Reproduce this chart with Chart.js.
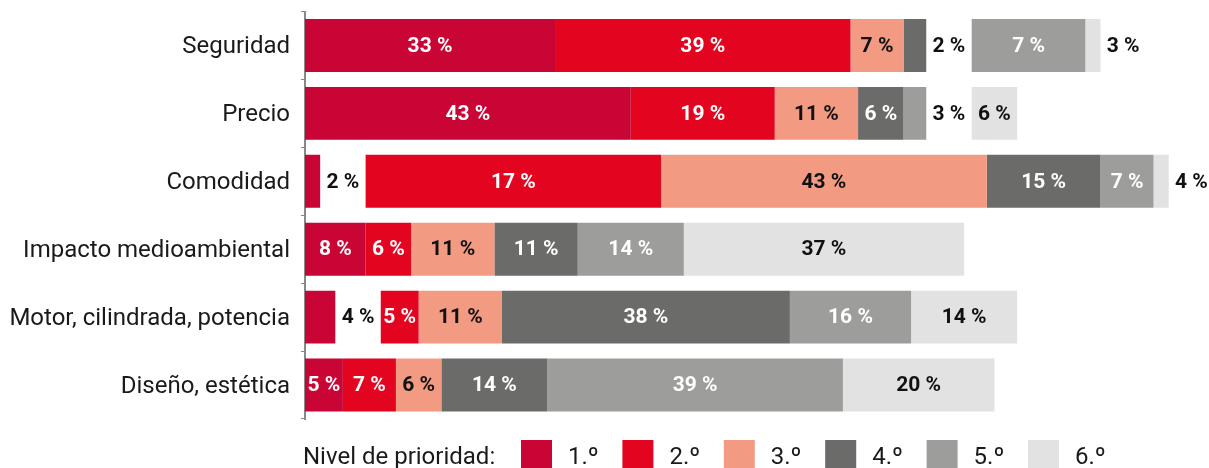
<!DOCTYPE html>
<html>
<head>
<meta charset="utf-8">
<script src="https://cdn.jsdelivr.net/npm/chart.js@4"></script>
<style>
  html, body { margin: 0; padding: 0; background: #fff; }
  #wrap { width: 1209px; height: 468px; position: relative; }
</style>
</head>
<body>
<div id="wrap"><canvas id="graficoPrioridad"></canvas></div>
<script>
const categorias = ['Seguridad', 'Precio', 'Comodidad', 'Impacto medioambiental', 'Motor, cilindrada, potencia', 'Diseño, estética'];
const niveles = ['1.º', '2.º', '3.º', '4.º', '5.º', '6.º'];
const colores = ['#C90535', '#E30520', '#F29A82', '#6B6B6A', '#9D9D9C', '#E2E2E2'];
const colorTexto = ['#fff', '#fff', '#111', '#fff', '#fff', '#111'];

// anchos de barra
const nivel1 = [33, 43, 2, 8, 4, 5];
const nivel2 = [39, 19, 39, 6, 5, 7];
const nivel3 = [7, 11, 43, 11, 11, 6];
const nivel4 = [3, 6, 15, 11, 38, 14];
const nivel5 = [15, 3, 7, 14, 16, 39];
const nivel6 = [2, 6, 2, 37, 14, 20];

// huecos blancos donde va el rotulo de un tramo estrecho
const hueco1 = [0, 0, 6, 0, 6, 0];
const hueco4 = [6, 0, 0, 0, 0, 0];
const hueco5 = [0, 6, 0, 0, 0, 0];

// rotulos tal como aparecen
const rotulo1 = ['33 %', '43 %', '2 %', '8 %', '4 %', '5 %'];
const rotulo2 = ['39 %', '19 %', '17 %', '6 %', '5 %', '7 %'];
const rotulo3 = ['7 %', '11 %', '43 %', '11 %', '11 %', '6 %'];
const rotulo4 = ['2 %', '6 %', '15 %', '11 %', '38 %', '14 %'];
const rotulo5 = ['7 %', '3 %', '7 %', '14 %', '16 %', '39 %'];
const rotulo6 = ['3 %', '6 %', '4 %', '37 %', '14 %', '20 %'];

const valores = [nivel1, nivel2, nivel3, nivel4, nivel5, nivel6];
const rotulos = [rotulo1, rotulo2, rotulo3, rotulo4, rotulo5, rotulo6];
const huecos = {0: hueco1, 3: hueco4, 4: hueco5};

const datasets = [];
valores.forEach((v, i) => {
    datasets.push({
        label: niveles[i],
        data: v,
        backgroundColor: colores[i],
        nivel: i
    });
    if (huecos[i]) {
        datasets.push({
            label: 'hueco',
            data: huecos[i],
            backgroundColor: 'rgba(0,0,0,0)',
            hueco: true
        });
    }
});

const FUENTE = 'Roboto, "DejaVu Sans", sans-serif';

const rotulosPlugin = {
    id: 'rotulos',
    afterDatasetsDraw(chart) {
        const ctx = chart.ctx;
        const xs = chart.scales.x;
        const paso = xs.getPixelForValue(3) - xs.getPixelForValue(0);
        ctx.save();
        ctx.font = 'bold 21px ' + FUENTE;
        ctx.textAlign = 'center';
        ctx.textBaseline = 'middle';
        chart.data.datasets.forEach((ds, di) => {
            if (ds.hueco) return;
            const meta = chart.getDatasetMeta(di);
            meta.data.forEach((bar, j) => {
                const p = bar.getProps(['x', 'base', 'y'], true);
                const txt = rotulos[ds.nivel][j];
                if (ds.data[j] >= 5) {
                    ctx.fillStyle = colorTexto[ds.nivel];
                    ctx.fillText(txt, (p.x + p.base) / 2, p.y + 1);
                } else {
                    ctx.fillStyle = '#111';
                    ctx.fillText(txt, p.x + paso, p.y + 1);
                }
            });
        });
        ctx.restore();
    }
};

const leyendaPlugin = {
    id: 'leyenda',
    afterDraw(chart) {
        const ctx = chart.ctx;
        ctx.save();
        ctx.font = '24px ' + FUENTE;
        ctx.fillStyle = '#1a1a1a';
        ctx.textAlign = 'left';
        ctx.textBaseline = 'alphabetic';
        ctx.fillText('Nivel de prioridad:', 303, 464);
        niveles.forEach((n, i) => {
            const x = 521 + i * 101.4;
            ctx.fillStyle = colores[i];
            ctx.fillRect(x, 440, 31, 31);
            ctx.fillStyle = '#1a1a1a';
            ctx.fillText(n, x + 47, 464);
        });
        ctx.restore();
    }
};

new Chart(document.getElementById('graficoPrioridad'), {
    type: 'bar',
    data: {
        labels: categorias,
        datasets: datasets
    },
    options: {
        indexAxis: 'y',
        responsive: true,
        maintainAspectRatio: false,
        animation: false,
        layout: {
            padding: {top: 11.5, bottom: 49, right: 10, left: 0}
        },
        datasets: {
            bar: {
                categoryPercentage: 1,
                barPercentage: 0.78,
                borderWidth: 0
            }
        },
        scales: {
            x: {
                stacked: true,
                display: false,
                min: 0,
                max: 118
            },
            y: {
                stacked: true,
                afterFit(scale) {
                    scale.width = 305;
                    scale.paddingTop = 0;
                    scale.paddingBottom = 0;
                },
                grid: {
                    display: true,
                    drawOnChartArea: false,
                    drawTicks: true,
                    tickLength: 4,
                    color: '#888'
                },
                border: {display: true, color: '#888', width: 2},
                ticks: {
                    color: '#1a1a1a',
                    padding: 11,
                    labelOffset: 2,
                    font: {family: FUENTE, size: 24}
                }
            }
        },
        plugins: {
            legend: {display: false},
            title: {display: false},
            tooltip: {enabled: false}
        }
    },
    plugins: [rotulosPlugin, leyendaPlugin]
});
</script>
</body>
</html>
